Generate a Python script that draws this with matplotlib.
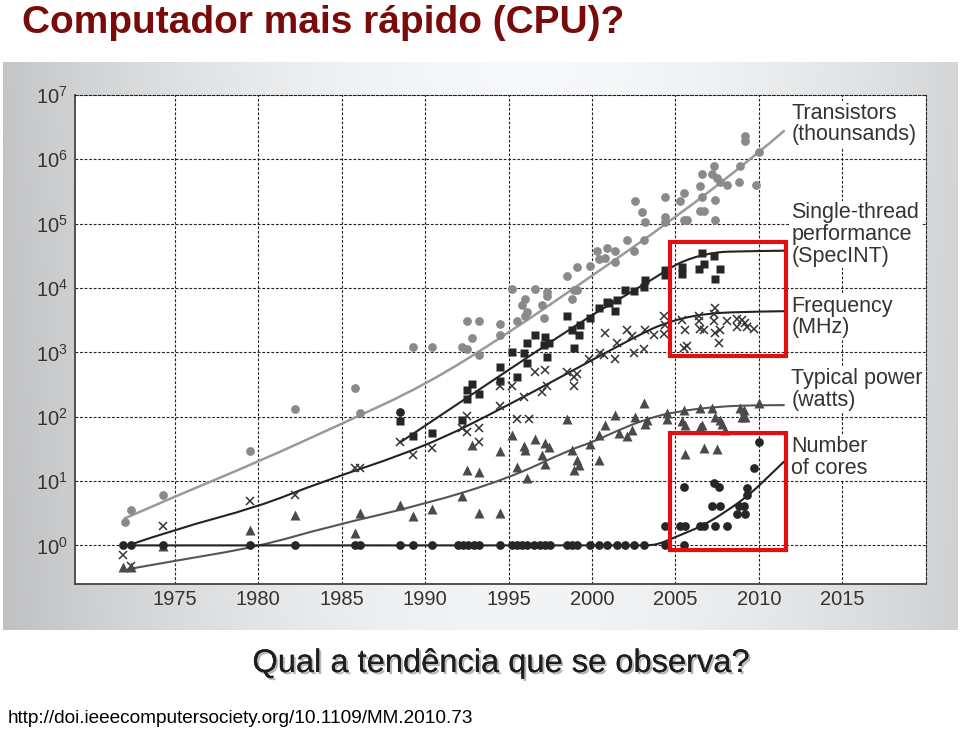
import matplotlib
matplotlib.use('Agg')
import matplotlib.pyplot as plt
import numpy as np
from matplotlib.patches import Rectangle, PathPatch
from matplotlib.path import Path
import matplotlib.patheffects as pe

plt.rcParams['font.family'] = ['Liberation Sans', 'DejaVu Sans']
plt.rcParams['mathtext.fontset'] = 'custom'
plt.rcParams['mathtext.rm'] = 'Liberation Sans'

# ---------------- data (year, log10 value) ----------------
trans_year = [1972.0, 1972.4, 1974.3, 1979.5, 1982.2, 1985.8, 1986.1, 1989.3, 1990.4, 1992.2,
              1992.5, 1992.5, 1993.2, 1992.8, 1993.2, 1994.5, 1994.5, 1995.2, 1995.5, 1995.8,
              1996.0, 1996.1, 1996.0, 1996.6, 1997.3, 1997.3, 1997.0, 1997.1, 1998.5, 1998.9,
              1999.1, 1998.8, 1999.1, 1999.9, 2000.4, 2000.3, 2000.8, 2000.9, 2001.4, 2001.4,
              2002.1, 2002.5, 2003.1, 2003.0, 2002.6, 2003.2, 2004.4, 2004.4, 2004.4, 2005.3,
              2005.5, 2005.5, 2005.7, 2006.5, 2006.6, 2006.6, 2006.5, 2006.7, 2007.3, 2007.2,
              2007.5, 2007.7, 2008.1, 2007.4, 2007.4, 2008.8, 2008.9, 2009.8, 2009.2, 2009.2,
              2010.0]
trans_log = [0.37, 0.55, 0.78, 1.47, 2.12, 2.44, 2.05, 3.08, 3.08, 3.09,
             3.05, 3.49, 3.49, 3.23, 2.96, 3.44, 3.27, 3.98, 3.49, 3.74,
             3.83, 3.63, 3.56, 3.98, 3.94, 3.88, 3.74, 3.54, 4.19, 3.97,
             3.97, 3.83, 4.32, 4.34, 4.45, 4.57, 4.47, 4.62, 4.57, 4.40,
             4.75, 4.57, 4.74, 5.18, 5.35, 5.03, 5.42, 5.11, 5.03, 5.35,
             5.47, 5.06, 5.06, 5.58, 5.77, 5.42, 5.19, 5.19, 5.89, 5.77,
             5.71, 5.65, 5.60, 5.37, 5.06, 5.65, 5.89, 5.60, 6.37, 6.28,
             6.12]

perf_year = [1988.5, 1989.3, 1990.4, 1992.2, 1992.5, 1992.5, 1992.8, 1993.2, 1994.5, 1994.5,
             1995.5, 1995.2, 1995.9, 1996.1, 1996.1, 1996.6, 1997.2, 1997.1, 1997.4, 1997.3,
             1998.5, 1998.8, 1998.9, 1999.2, 1999.3, 1999.9, 2000.4, 2000.9, 2001.0, 2001.4,
             2001.5, 2002.0, 2002.5, 2003.1, 2003.2, 2004.4, 2004.4, 2005.4, 2005.4, 2006.6,
             2006.7, 2006.4, 2007.3, 2007.7, 2007.4]
perf_log = [1.93, 1.70, 1.74, 1.95, 2.27, 2.42, 2.51, 2.36, 2.78, 2.56,
            2.61, 3.01, 2.99, 3.14, 2.83, 3.27, 3.24, 3.12, 3.14, 2.93,
            3.56, 3.35, 3.07, 3.27, 3.43, 3.53, 3.69, 3.79, 3.76, 3.65,
            3.82, 3.97, 3.96, 4.02, 4.13, 4.28, 4.21, 4.33, 4.22, 4.54,
            4.38, 4.29, 4.50, 4.29, 4.14]

freq_year = [1971.9, 1972.4, 1974.3, 1979.5, 1982.2, 1985.8, 1986.1, 1988.5, 1989.3, 1990.4,
             1992.2, 1992.5, 1992.5, 1993.2, 1993.2, 1994.5, 1994.5, 1995.2, 1995.5, 1996.2,
             1995.9, 1996.6, 1997.2, 1997.0, 1997.3, 1998.5, 1998.9, 1998.9, 1999.1, 1999.8,
             2000.5, 2000.8, 2000.7, 2001.4, 2001.5, 2002.1, 2002.5, 2003.1, 2002.4, 2003.2,
             2003.7, 2004.3, 2004.4, 2004.3, 2005.4, 2005.6, 2005.5, 2005.7, 2006.4, 2006.4,
             2006.5, 2006.7, 2007.4, 2007.3, 2007.3, 2007.4, 2007.7, 2007.6, 2008.1, 2008.7,
             2009.0, 2009.2, 2008.7, 2009.3, 2009.7]
freq_log = [-0.15, -0.32, 0.30, 0.69, 0.78, 1.21, 1.21, 1.60, 1.40, 1.52,
            1.82, 1.77, 2.01, 1.82, 1.61, 2.17, 2.48, 2.48, 1.96, 1.96,
            2.31, 2.70, 2.73, 2.39, 2.47, 2.70, 2.48, 2.61, 2.67, 2.89,
            2.99, 3.30, 2.96, 2.89, 3.14, 3.35, 2.99, 3.06, 3.25, 3.34,
            3.27, 3.56, 3.43, 3.29, 3.50, 3.35, 3.07, 3.10, 3.56, 3.48,
            3.37, 3.34, 3.69, 3.60, 3.48, 3.30, 3.34, 3.15, 3.48, 3.52,
            3.50, 3.46, 3.40, 3.40, 3.36]

power_year = [1971.9, 1972.4, 1974.3, 1979.5, 1982.2, 1985.8, 1986.1, 1988.5, 1989.3, 1990.4,
              1992.2, 1992.5, 1993.2, 1993.2, 1994.5, 1994.5, 1992.8, 1995.2, 1995.5, 1995.9,
              1996.0, 1996.1, 1996.6, 1997.2, 1997.4, 1997.0, 1997.2, 1998.5, 1998.8, 1999.1,
              1999.2, 1998.9, 1999.9, 2000.4, 2000.4, 2000.8, 2001.4, 2001.6, 2002.1, 2002.4,
              2002.6, 2003.1, 2003.3, 2003.2, 2004.5, 2004.5, 2005.5, 2005.4, 2005.6, 2006.5,
              2006.6, 2006.5, 2007.2, 2007.4, 2007.7, 2007.8, 2008.0, 2008.9, 2009.0, 2009.2,
              2009.1, 2010.0, 2005.6, 2006.7, 2007.5]
power_log = [-0.33, -0.33, -0.01, 0.24, 0.48, 0.19, 0.51, 0.63, 0.46, 0.56,
             0.77, 1.17, 1.14, 0.51, 0.50, 1.47, 1.56, 1.72, 1.22, 1.54,
             1.48, 1.04, 1.66, 1.59, 1.53, 1.40, 1.26, 1.97, 1.49, 1.33,
             1.25, 1.17, 1.57, 1.72, 1.32, 1.87, 2.03, 1.74, 1.70, 1.80,
             2.00, 2.21, 1.95, 1.88, 2.06, 1.96, 2.11, 1.94, 1.87, 2.13,
             1.87, 1.84, 2.13, 2.00, 1.95, 1.88, 1.80, 2.13, 1.99, 1.99,
             2.11, 2.22, 1.42, 1.51, 1.50]

cores_year = [1971.9, 1972.4, 1974.3, 1979.5, 1982.2, 1985.8, 1986.1, 1988.5, 1989.3, 1990.4,
              1992.0, 1992.3, 1992.6, 1992.9, 1993.2, 1994.5, 1995.2, 1995.5, 1995.8, 1996.1,
              1996.5, 1996.9, 1997.2, 1997.5, 1998.5, 1998.8, 1999.1, 1999.9, 2000.4, 2000.9,
              2001.5, 2002.0, 2002.5, 2003.1, 2004.4, 2005.5,
              2004.4, 2005.3, 2005.6, 2006.5, 2006.7, 2007.4, 2008.1, 2007.2, 2007.7, 2008.8,
              2009.1, 2008.7, 2009.2, 2009.3, 2009.3, 2005.5, 2007.3, 2007.6, 2009.7, 2010.0,
              1988.5]
cores_log = [0.0] * 36 + [0.30, 0.30, 0.30, 0.30, 0.30, 0.30, 0.30, 0.61, 0.61, 0.61,
                          0.61, 0.49, 0.49, 0.78, 0.89, 0.91, 0.97, 0.91, 1.21, 1.61,
                          2.08]

# trend curves (knots)
trans_fit_year = [1972.0, 1975, 1980, 1985, 1990, 1995, 1999.5, 2005, 2010, 2011.5]
trans_fit_log = [0.42, 0.76, 1.30, 1.89, 2.49, 3.30, 4.10, 5.09, 6.10, 6.44]
perf_fit_year = [1988.5, 1992.6, 1996, 1999.8, 2001.2, 2003.2, 2004.2, 2005.0, 2005.8, 2006.6, 2007.4, 2008.2, 2011.5]
perf_fit_log = [1.60, 2.31, 2.90, 3.55, 3.76, 4.07, 4.23, 4.36, 4.45, 4.51, 4.55, 4.57, 4.58]
freq_fit_year = [1972.2, 1975, 1980, 1983.6, 1990, 1995, 2000, 2003.4, 2004.4, 2005.4, 2006.8, 2008.8, 2011.5]
freq_fit_log = [0.0, 0.25, 0.60, 0.97, 1.53, 2.18, 2.88, 3.35, 3.45, 3.53, 3.60, 3.63, 3.64]
power_fit_year = [1972.4, 1975, 1980, 1984.2, 1990, 1995, 1998.6, 2000, 2001.4, 2003.2, 2005, 2007.6, 2010, 2011.5]
power_fit_log = [-0.36, -0.24, -0.02, 0.29, 0.64, 1.04, 1.48, 1.60, 1.77, 1.96, 2.08, 2.16, 2.18, 2.18]
cores_fit_year = [1971.9, 2002.6, 2003.6, 2004.2, 2005.0, 2006.6, 2008.0, 2009.4, 2010.5, 2011.5]
cores_fit_log = [0.0, 0.0, 0.0, 0.04, 0.13, 0.30, 0.52, 0.78, 1.05, 1.30]

series_labels = ['Transistors\n(thounsands)', 'Single-thread\nperformance\n(SpecINT)',
                 'Frequency\n(MHz)', 'Typical power\n(watts)', 'Number\nof cores']
label_log_pos = [6.55, 4.83, 3.55, 2.42, 1.37]

x_ticks = [1975, 1980, 1985, 1990, 1995, 2000, 2005, 2010, 2015]
y_exps = [0, 1, 2, 3, 4, 5, 6, 7]

title = 'Computador mais rápido (CPU)?'
question = 'Qual a tendência que se observa?'
source = 'http://doi.ieeecomputersociety.org/10.1109/MM.2010.73'

# ---------------- figure ----------------
W, H = 960, 731
fig = plt.figure(figsize=(W / 100, H / 100), dpi=100)
fig.patch.set_facecolor('white')

# gray gradient panel behind chart
bg = fig.add_axes([3 / W, 1 - 630 / H, 955 / W, 568 / H])
bg.axis('off')
u = np.linspace(0, 1, 400)
v = np.linspace(0, 1, 200)
U, V = np.meshgrid(u, v)
shade = 0.975 - 0.20 * (np.abs(U - 0.55) / 0.55) ** 1.8 - 0.02 * V
shade = np.clip(shade, 0, 1)
img = np.dstack([shade * 0.995, shade * 1.0, shade * 1.006])
img = np.clip(img, 0, 1)
bg.imshow(img, aspect='auto', extent=[0, 1, 0, 1], interpolation='bilinear')
bg.set_xlim(0, 1)
bg.set_ylim(0, 1)

ax = fig.add_axes([74.7 / W, 1 - 584 / H, (925.7 - 74.7) / W, (584 - 95) / H])
ax.set_facecolor('white')
ax.set_yscale('log')
ax.set_xlim(1969, 2020)
ax.set_ylim(10 ** -0.6, 1e7)

dash = (0, (2.5, 1.6))
grid_kw = dict(color='#222222', lw=0.8, ls=dash, zorder=1)
for xt in x_ticks:
    ax.axvline(xt, **grid_kw)
for e in y_exps[:-1]:
    ax.axhline(10.0 ** e, **grid_kw)

for s in ['top', 'right']:
    ax.spines[s].set_linestyle(dash)
    ax.spines[s].set_linewidth(0.8)
    ax.spines[s].set_color('#222222')
for s in ['left', 'bottom']:
    ax.spines[s].set_linewidth(1.3)
    ax.spines[s].set_color('#444444')

ax.set_xticks(x_ticks)
ax.set_xticklabels([str(t) for t in x_ticks])
ax.set_yticks([10.0 ** e for e in y_exps])
ax.set_yticklabels([r'$\mathregular{10^{%d}}$' % e for e in y_exps])
ax.minorticks_off()
ax.tick_params(axis='both', length=0, labelsize=14.5, colors='#333333')
ax.tick_params(axis='x', pad=4)
ax.tick_params(axis='y', pad=5)


def p(vals):
    return 10.0 ** np.asarray(vals)


def smooth_curve(xs, logs, color, lw):
    """Quadratic B-spline style path through the knots (drawn by matplotlib's Path)."""
    pts = list(zip(xs, logs))
    verts = [pts[0]]
    codes = [Path.MOVETO]
    for i in range(1, len(pts) - 1):
        mid = ((pts[i][0] + pts[i + 1][0]) / 2, (pts[i][1] + pts[i + 1][1]) / 2)
        if i == len(pts) - 2:
            mid = pts[-1]
        verts += [pts[i], mid]
        codes += [Path.CURVE3, Path.CURVE3]
    verts = [(x, 10.0 ** y) for x, y in verts]
    patch = PathPatch(Path(verts, codes), facecolor='none', edgecolor=color, lw=lw,
                      zorder=3, capstyle='round', joinstyle='round')
    ax.add_patch(patch)


# trend lines
smooth_curve(trans_fit_year, trans_fit_log, '#9a9a9a', 1.8)
smooth_curve(perf_fit_year, perf_fit_log, '#222222', 1.5)
smooth_curve(freq_fit_year, freq_fit_log, '#222222', 1.5)
smooth_curve(power_fit_year, power_fit_log, '#555555', 1.5)
smooth_curve(cores_fit_year, cores_fit_log, '#222222', 1.5)

# markers
ax.plot(trans_year, p(trans_log), 'o', ls='none', color='#8a8a8a', ms=6.3, mec='none', zorder=4)
ax.plot(perf_year, p(perf_log), 's', ls='none', color='#262626', ms=6.2, mec='none', zorder=4)
ax.plot(freq_year, p(freq_log), 'x', ls='none', color='#333333', ms=6.2, mew=1.1, zorder=4)
ax.plot(power_year, p(power_log), '^', ls='none', color='#4a4a4a', ms=6.8, mec='none', zorder=4)
ax.plot(cores_year, p(cores_log), 'o', ls='none', color='#262626', ms=6.3, mec='none', zorder=4)

# series labels
for lab, ly in zip(series_labels, label_log_pos):
    ax.text(2011.95, 10.0 ** ly, lab, ha='left', va='center', fontsize=15.5,
            color='#333333', linespacing=1.05, zorder=6,
            bbox=dict(facecolor='white', edgecolor='none', pad=1.0))

# red highlight boxes
red = '#e01010'
ax.add_patch(Rectangle((2004.7, 10 ** 2.94), 6.9, 10 ** 4.72 - 10 ** 2.94,
                       fill=False, edgecolor=red, lw=3, zorder=7, clip_on=False))
ax.add_patch(Rectangle((2004.7, 10 ** -0.07), 6.9, 10 ** 1.75 - 10 ** -0.07,
                       fill=False, edgecolor=red, lw=3, zorder=7, clip_on=False))

# texts outside chart
fig.text(22 / W, 1 - 33 / H, title, ha='left', va='baseline', fontsize=28,
         fontweight='bold', color='#7a0b0b')
fig.text(501 / W, 1 - 672 / H, question, ha='center', va='baseline', fontsize=23.5,
         color='#1e1e1e',
         path_effects=[pe.withSimplePatchShadow(offset=(1.5, -1.5), shadow_rgbFace='#888888', alpha=0.6),
                       pe.Normal()])
fig.text(8 / W, 1 - 723 / H, source, ha='left', va='baseline', fontsize=13.7, color='#000000')

fig.savefig('out.png', dpi=100)
